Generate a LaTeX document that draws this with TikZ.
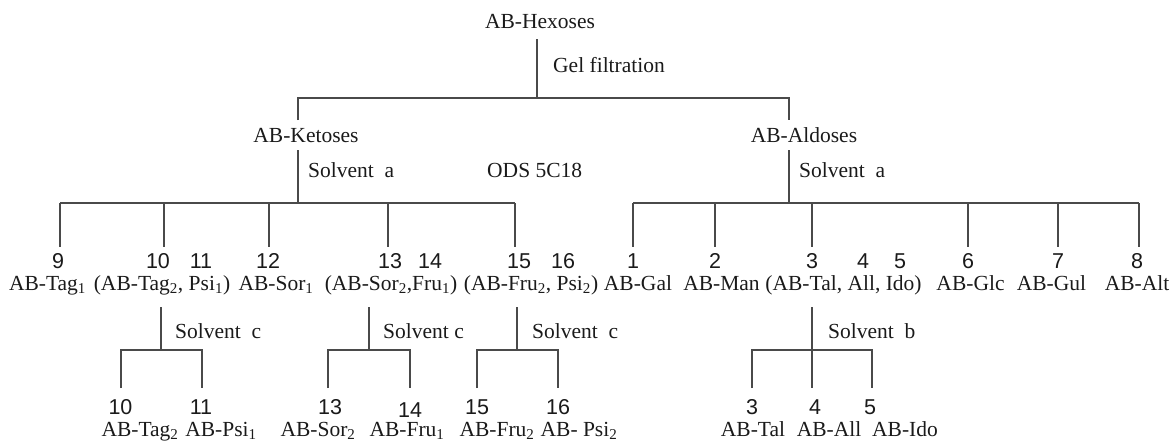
\documentclass[tikz,border=0pt]{standalone}
\usepackage{fontspec}
\setmainfont{Liberation Serif}
\newfontfamily\numfamily{Liberation Sans}
\definecolor{ink}{HTML}{1A1A1A}
\definecolor{wire}{HTML}{4A4A4A}
\newcommand{\lblfont}{\fontsize{21.5}{24}\selectfont}
\newcommand{\nfont}{\numfamily\fontsize{21.5}{24}\selectfont}
\newcommand{\sub}[1]{\textsubscript{#1}}
\begin{document}
\begin{tikzpicture}[x=1pt,y=-1pt,
  lbl/.style={font=\lblfont, text=ink, anchor=base, inner sep=0pt},
  lblw/.style={font=\lblfont, text=ink, anchor=base west, inner sep=0pt},
  num/.style={font=\nfont, text=ink, anchor=base, inner sep=0pt},
  ln/.style={draw=wire, line width=1.3pt}]
\useasboundingbox (0,0) rectangle (1174,442);

% ---------- top ----------
\node[lbl] (hex) at (540,28) {AB-Hexoses};
\node[lblw] (gel) at (553,72) {Gel filtration};
\node[lbl] (ket) at (306,142) {AB-Ketoses};
\node[lbl] (ald) at (804,142) {AB-Aldoses};
\node[lblw] (sa1) at (308,177) {Solvent~~a};
\node[lblw] (ods) at (487,177) {ODS 5C18};
\node[lblw] (sa2) at (799,177) {Solvent~~a};

\coordinate (h0) at (537,39);
\coordinate (h1) at (537,98);
\coordinate (hk) at (298,98);
\coordinate (ha) at (789,98);
\coordinate (hk2) at (298,120);
\coordinate (ha2) at (789,120);
\draw[ln] (h0) -- (h1);
\draw[ln] (hk2) -- (hk) -- (ha) -- (ha2);

% ketoses split
\coordinate (k0) at (298,150);
\coordinate (k1) at (298,203);
\draw[ln] (k0) -- (k1);
\coordinate (kL) at (60,203);
\coordinate (kR) at (515,203);
\draw[ln] (kL) -- (kR);
\foreach \x/\n in {60/a,164/b,269/c,388/d,515/e}{
  \coordinate (kt\n) at (\x,203);
  \coordinate (kb\n) at (\x,247);
  \draw[ln] (kt\n) -- (kb\n);
}
% aldoses split
\coordinate (a0) at (789,150);
\coordinate (a1) at (789,203);
\draw[ln] (a0) -- (a1);
\coordinate (aL) at (633,203);
\coordinate (aR) at (1139,203);
\draw[ln] (aL) -- (aR);
\foreach \x/\n in {633/a,715/b,812/c,968/d,1058/e,1139/f}{
  \coordinate (at\n) at (\x,203);
  \coordinate (ab\n) at (\x,247);
  \draw[ln] (at\n) -- (ab\n);
}

% ---------- row 1 numbers ----------
\node[num] (n9)  at (58,268) {9};
\node[num] (n10) at (158,268) {10};
\node[num] (n11) at (201,268) {11};
\node[num] (n12) at (268,268) {12};
\node[num] (n13) at (390,268) {13};
\node[num] (n14) at (430,268) {14};
\node[num] (n15) at (519,268) {15};
\node[num] (n16) at (563,268) {16};
\node[num] (n1)  at (633,268) {1};
\node[num] (n2)  at (715,268) {2};
\node[num] (n3)  at (812,268) {3};
\node[num] (n4)  at (863,268) {4};
\node[num] (n5)  at (900,268) {5};
\node[num] (n6)  at (968,268) {6};
\node[num] (n7)  at (1058,268) {7};
\node[num] (n8)  at (1137,268) {8};

% ---------- row 1 labels ----------
\node[lbl] (tag1) at (47.5,290) {AB-Tag\sub{1}};
\node[lbl] (tagpsi) at (162,290) {(AB-Tag\sub{2}, Psi\sub{1})};
\node[lbl] (sor1) at (276,290) {AB-Sor\sub{1}};
\node[lbl] (sorfru) at (391,290) {(AB-Sor\sub{2},Fru\sub{1})};
\node[lbl] (frupsi) at (531,290) {(AB-Fru\sub{2}, Psi\sub{2})};
\node[lbl] (gal) at (638,290) {AB-Gal};
\node[lbl] (man) at (721.5,290) {AB-Man};
\node[lbl] (talallido) at (843.5,290) {(AB-Tal, All, Ido)};
\node[lbl] (glc) at (970.5,290) {AB-Glc};
\node[lbl] (gul) at (1051.5,290) {AB-Gul};
\node[lbl] (alt) at (1137,290) {AB-Alt};

% ---------- sub splits ----------
\foreach \c/\l/\r/\n in {161/121/202/g1,369/328/410/g2,517/477/558/g3}{
  \coordinate (\n t) at (\c,307);
  \coordinate (\n m) at (\c,350);
  \coordinate (\n l) at (\l,350);
  \coordinate (\n r) at (\r,350);
  \coordinate (\n lb) at (\l,388);
  \coordinate (\n rb) at (\r,388);
  \draw[ln] (\n t) -- (\n m);
  \draw[ln] (\n lb) -- (\n l) -- (\n r) -- (\n rb);
}
\coordinate (g4t) at (812,307);
\coordinate (g4b) at (812,388);
\coordinate (g4l) at (752,350);
\coordinate (g4r) at (872,350);
\coordinate (g4lb) at (752,388);
\coordinate (g4rb) at (872,388);
\draw[ln] (g4t) -- (g4b);
\draw[ln] (g4lb) -- (g4l) -- (g4r) -- (g4rb);

\node[lblw] (sc1) at (175,338) {Solvent~~c};
\node[lblw] (sc2) at (383,338) {Solvent c};
\node[lblw] (sc3) at (532,338) {Solvent~~c};
\node[lblw] (sb)  at (828,338) {Solvent~~b};

% ---------- bottom numbers ----------
\node[num] (m10) at (120.5,414) {10};
\node[num] (m11) at (201,414) {11};
\node[num] (m13) at (330,414) {13};
\node[num] (m14) at (410,417) {14};
\node[num] (m15) at (477,414) {15};
\node[num] (m16) at (558,414) {16};
\node[num] (m3) at (752,414) {3};
\node[num] (m4) at (815,414) {4};
\node[num] (m5) at (870,414) {5};

% ---------- bottom labels ----------
\node[lbl] (btag) at (140,436) {AB-Tag\sub{2}};
\node[lbl] (bpsi) at (221,436) {AB-Psi\sub{1}};
\node[lbl] (bsor) at (318,436) {AB-Sor\sub{2}};
\node[lbl] (bfru1) at (407,436) {AB-Fru\sub{1}};
\node[lbl] (bfru2) at (497,436) {AB-Fru\sub{2}};
\node[lbl] (bpsi2) at (579,436) {AB- Psi\sub{2}};
\node[lbl] (btal) at (753,436) {AB-Tal};
\node[lbl] (ball) at (829,436) {AB-All};
\node[lbl] (bido) at (905,436) {AB-Ido};
\end{tikzpicture}
\end{document}
